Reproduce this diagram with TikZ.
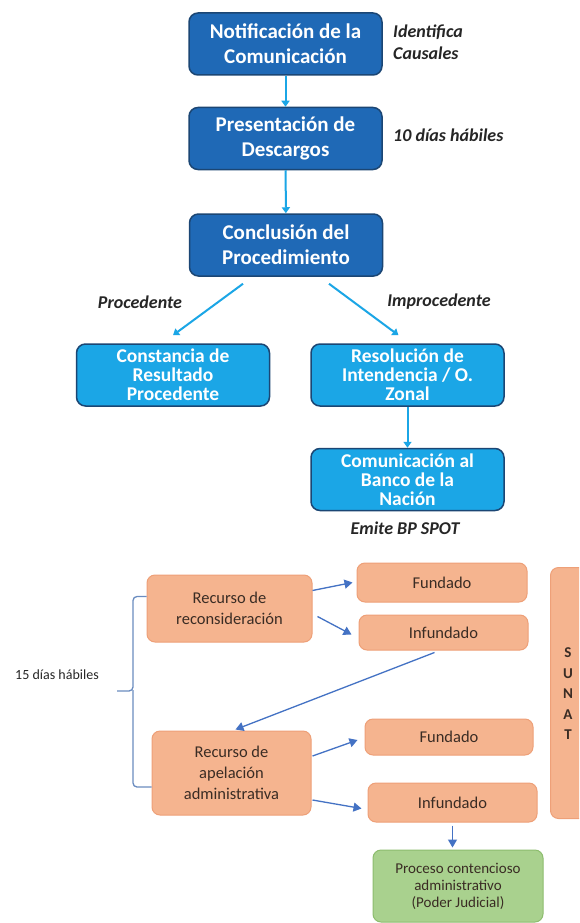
\documentclass[tikz,border=0pt]{standalone}
\usepackage{fontspec}
\setmainfont{Carlito}
\usetikzlibrary{arrows.meta}

\definecolor{azulosc}{HTML}{1F69B6}
\definecolor{bordeosc}{HTML}{1B4674}
\definecolor{celeste}{HTML}{1BA6E6}
\definecolor{naranja}{HTML}{F5B48F}
\definecolor{bordenar}{HTML}{EEA078}
\definecolor{verde}{HTML}{A9D18E}
\definecolor{bordever}{HTML}{8DBD6E}
\definecolor{flecha}{HTML}{4472C4}
\definecolor{llavecol}{HTML}{6A8CC0}
\definecolor{textonar}{HTML}{3A2C24}

\tikzset{
  paso/.style={draw=bordeosc, line width=1.5pt, fill=azulosc, rounded corners=9pt,
    text=white, font=\fontsize{21}{25}\selectfont\bfseries, align=center,
    minimum width=193pt, minimum height=62pt, inner sep=0pt},
  res/.style={paso, fill=celeste, font=\fontsize{19.5}{19}\selectfont\bfseries},
  nota/.style={font=\fontsize{18}{22}\selectfont\bfseries\itshape, text=black!85,
    align=left, inner sep=0pt},
  recurso/.style={draw=bordenar, line width=1pt, fill=naranja, rounded corners=8pt,
    text=textonar, font=\fontsize{16.5}{21}\selectfont, align=center, inner sep=0pt},
  fin/.style={recurso, fill=verde, draw=bordever, font=\fontsize{15}{17}\selectfont},
  flechaA/.style={draw=celeste, line width=2pt, -{Triangle[width=8pt,length=6pt]}},
  flechaB/.style={draw=flecha, line width=1.3pt, -{Triangle[width=9pt,length=8pt]}},
  llave/.style={draw=llavecol, line width=1.3pt, rounded corners=4pt},
}

\begin{document}
\begin{tikzpicture}[x=1pt, y=-1pt]
\useasboundingbox (0,0) rectangle (579,923);
\fill[white] (0,0) rectangle (579,923);
\clip (0,0) rectangle (579,923);

% procedimiento
\node[paso] (notif) at (285.5,44) {Notificación de la\\Comunicación};
\node[paso] (present) at (285.5,138.5) {Presentación de\\Descargos};
\node[paso] (concl) at (286,245) {Conclusión del\\Procedimiento};
\node[res] (const) at (173,375) {Constancia de\\Resultado\\Procedente};
\node[res] (resol) at (407.5,375) {Resolución de\\Intendencia / O.\\Zonal};
\node[res] (comun) at (407.5,479.5) {Comunicación al\\Banco de la\\Nación};

\node[nota, anchor=west] (causales) at (393,42) {Identifica\\Causales};
\node[nota, anchor=west] (plazo) at (393,135) {10 días hábiles};
\node[nota] (proc) at (140,302) {Procedente};
\node[nota] (improc) at (439,302) {Improcedente};
\node[nota] (bp) at (405,528) {Emite BP SPOT};

\draw[flechaA] (notif) -- (present);
\draw[flechaA] (present) -- (concl);
\draw[flechaA] ([xshift=-43pt,yshift=-7pt]concl.south) -- ([yshift=8pt]const.north);
\draw[flechaA] ([xshift=43pt,yshift=-7pt]concl.south) -- ([xshift=-9pt,yshift=8pt]resol.north);
\draw[flechaA] (resol) -- (comun);

% recursos
\node[recurso, minimum width=165pt, minimum height=67pt] (recon) at (229.5,608.5) {Recurso de\\reconsideración};
\node[recurso, minimum width=170pt, minimum height=39pt] (fund1) at (442,582.5) {Fundado};
\node[recurso, minimum width=169pt, minimum height=35pt] (infund1) at (443.5,632.5) {Infundado};
\node[recurso, minimum width=159pt, minimum height=84pt] (apel) at (231.5,773) {Recurso de\\apelación\\administrativa};
\node[recurso, minimum width=168pt, minimum height=36pt] (fund2) at (449,737) {Fundado};
\node[recurso, minimum width=169pt, minimum height=39pt] (infund2) at (452.5,802.5) {Infundado};
\node[fin, minimum width=170pt, minimum height=72pt] (judicial) at (458,886) {Proceso contencioso\\administrativo\\(Poder Judicial)};
\node[recurso, minimum width=60pt, minimum height=251pt, anchor=north west] (sunat) at (550,567) {};
\node[font=\fontsize{15}{20.5}\selectfont\bfseries, text=textonar, align=center, inner sep=0pt] (sunatlbl) at (568,694) {S\\U\\N\\A\\T};

\coordinate (punta) at (117,691);
\node[font=\fontsize{14}{17}\selectfont, text=black!85, inner sep=0pt] (quince) at (57,675) {15 días hábiles};
\draw[llave] ([yshift=12pt]recon.west) -| (133,691) -- (punta);
\draw[llave] (133,690) |- ([yshift=-14pt]apel.west);

\draw[flechaB] ([yshift=18pt]recon.east) -- ([xshift=-4pt]fund1.west);
\draw[flechaB] ([xshift=5pt,yshift=-8pt]recon.east) -- ([xshift=-7pt,yshift=-2pt]infund1.west);
\draw[flechaB] ([xshift=-9pt,yshift=-2pt]infund1.south) -- ([xshift=4pt,yshift=1pt]apel.north);
\draw[flechaB] ([xshift=1pt,yshift=17pt]apel.east) -- ([xshift=-7pt,yshift=-3pt]fund2.west);
\draw[flechaB] ([xshift=1pt,yshift=-27pt]apel.east) -- ([xshift=-6pt,yshift=-6pt]infund2.west);
\draw[flechaB] ([yshift=-3pt]infund2.south) -- ([yshift=2pt]judicial.north -| infund2.south);
\end{tikzpicture}
\end{document}
